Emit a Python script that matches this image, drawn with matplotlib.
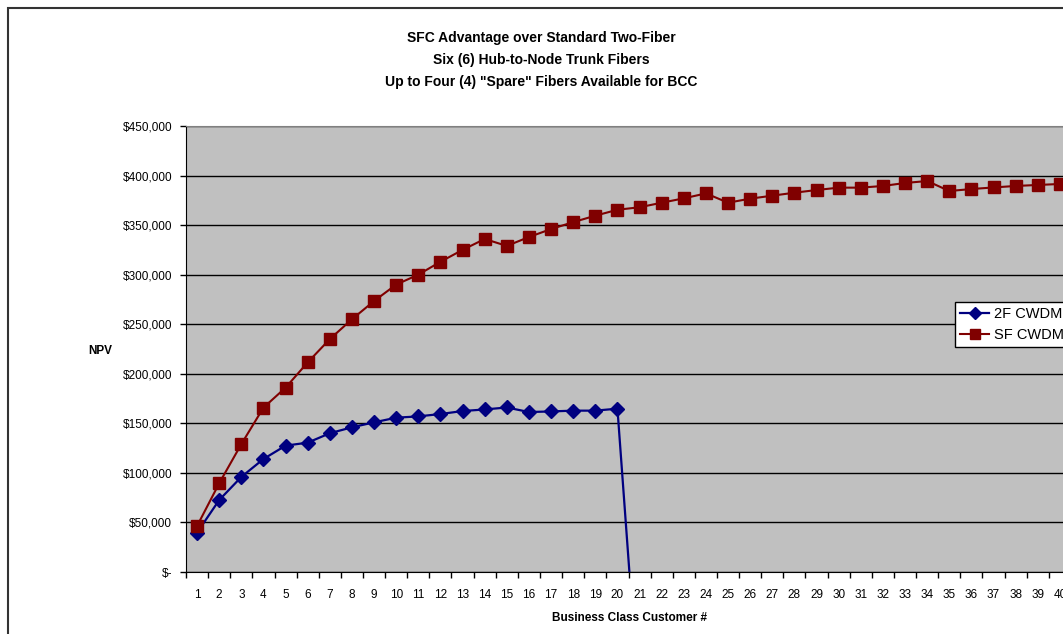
import matplotlib.pyplot as plt
import matplotlib.ticker as mticker
from matplotlib.patches import Rectangle
import numpy as np

customers = list(range(1, 41))

# 2F CWDM drops below zero at customer 21 and is not shown afterwards
npv_2f = [39700, 72600, 95900, 114000, 127500, 130500, 140000, 146000, 151000, 155700,
          157000, 159400, 162400, 164000, 166000, 161400, 162000, 162800, 162800, 164800,
          -140000] + [np.nan] * 19

npv_sf = [46400, 89500, 129000, 165800, 186000, 211500, 235000, 255000, 273400, 290000,
          300000, 313000, 325000, 336000, 329000, 338000, 346000, 353000, 359500, 365500,
          368000, 372600, 377000, 382000, 372600, 376700, 379700, 382700, 385400, 387800,
          387800, 389500, 392500, 394500, 384400, 386400, 388000, 389500, 390500, 391500]

title_lines = ["SFC Advantage over Standard Two-Fiber",
               "Six (6) Hub-to-Node Trunk Fibers",
               "Up to Four (4) \"Spare\" Fibers Available for BCC"]

plt.rcParams['font.family'] = ['Liberation Sans', 'DejaVu Sans']

W, H = 1063, 634
fig = plt.figure(figsize=(W / 100, H / 100), dpi=100)

# outer chart frame (cut off on the right and bottom)
fig.add_artist(Rectangle((8 / W, -0.1), 1.2, 1.1 - 8 / H, transform=fig.transFigure,
                         fill=False, edgecolor='#333333', linewidth=1.5))

ax = fig.add_axes([186 / W, 1 - 572 / H, (1071 - 186) / W, (572 - 126) / H])
ax.set_facecolor('#C0C0C0')

ax.plot(customers, npv_2f, color='#000080', marker='D', markersize=7, linewidth=1.6,
        label='2F CWDM')
ax.plot(customers, npv_sf, color='#800000', marker='s', markersize=8, linewidth=1.5,
        label='SF CWDM')

ax.set_xlim(0.5, 40.5)
ax.set_ylim(0, 450000)
ax.set_yticks(np.arange(0, 450001, 50000))
ax.yaxis.set_major_formatter(mticker.FuncFormatter(
    lambda v, p: '$-' if v == 0 else '${:,.0f}'.format(v)))
ax.grid(axis='y', color='black', linewidth=1)
ax.set_axisbelow(True)

ax.set_xticks(customers)
ax.set_xticks(np.arange(0.5, 41, 1), minor=True)
ax.tick_params(axis='x', which='major', length=0, pad=12, labelsize=8.5)
ax.tick_params(axis='x', which='minor', length=4, width=1, direction='out')
ax.tick_params(axis='y', length=4, width=1, pad=6, labelsize=8.5)

for s in ['top', 'right']:
    ax.spines[s].set_color('#808080')
for s in ['left', 'bottom']:
    ax.spines[s].set_color('black')

fig.text(541 / W, 1 - 38 / H, title_lines[0], ha='center', va='center', fontsize=10, fontweight='bold')
fig.text(541 / W, 1 - 60 / H, title_lines[1], ha='center', va='center', fontsize=10, fontweight='bold')
fig.text(541 / W, 1 - 82 / H, title_lines[2], ha='center', va='center', fontsize=10, fontweight='bold')

fig.text(100 / W, 1 - 351 / H, 'NPV', ha='center', va='center', fontsize=8.5, fontweight='bold')
fig.text(629 / W, 1 - 618 / H, 'Business Class Customer #', ha='center', va='center',
         fontsize=8.5, fontweight='bold')

leg = ax.legend(loc='upper left', bbox_to_anchor=(955 / W, 1 - 302 / H),
                bbox_transform=fig.transFigure, borderaxespad=0, fontsize=10.5,
                frameon=True, fancybox=False, edgecolor='black', framealpha=1,
                handlelength=2.0, handletextpad=0.3, borderpad=0.35, labelspacing=0.45,
                markerscale=0.9)
leg.get_frame().set_linewidth(1)

fig.savefig('out.png', dpi=100)
